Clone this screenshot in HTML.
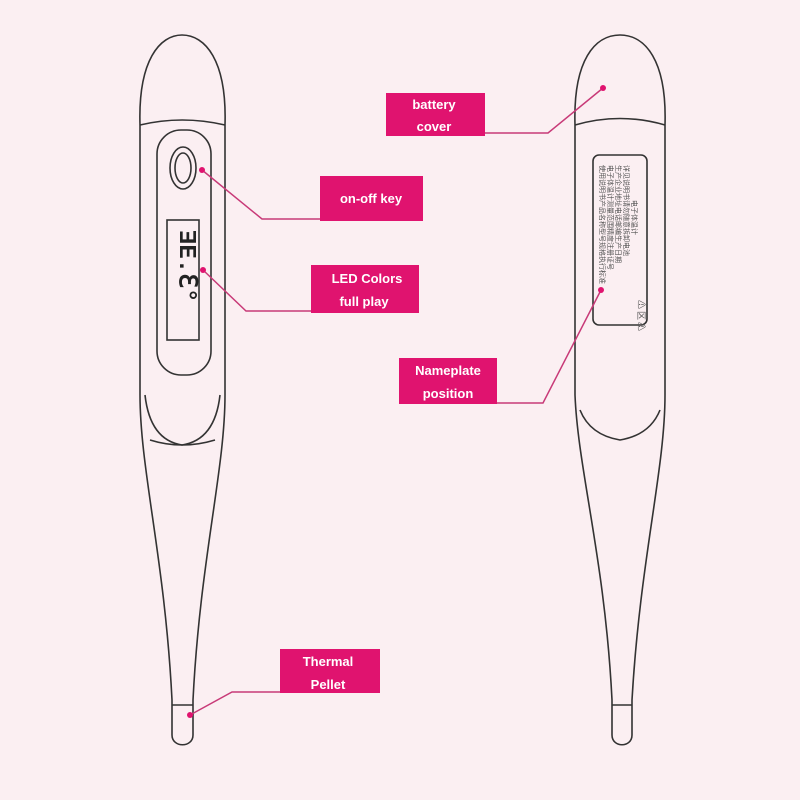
<!DOCTYPE html>
<html><head><style>
html,body{margin:0;padding:0;background:#fbeff2;}
svg{display:block}
.t{font-family:"Liberation Sans",sans-serif;font-weight:bold;fill:#fff;font-size:13px;text-anchor:middle}
</style></head><body>
<svg width="800" height="800" viewBox="0 0 800 800" xmlns="http://www.w3.org/2000/svg">
<rect width="800" height="800" fill="#fbeff2"/>
<g fill="none" stroke="#333" stroke-width="1.6">
<!-- left thermometer -->
<path d="M140,125 C138,60 160,35 182,35 C205,35 227,60 225,125 L225,395 C225,470 200,560 193,700 L193,735 C193,748 172,748 172,735 L172,700 C165,560 140,470 140,395 Z"/>
<path d="M140,125 Q182,115 225,125"/>
<path d="M145,395 Q150,440 182,445 Q215,440 220,395"/>
<path d="M150,440 Q182,450 215,440"/>
<rect x="157" y="130" width="54" height="245" rx="24"/>
<ellipse cx="183" cy="168" rx="13" ry="21"/>
<ellipse cx="183" cy="168" rx="8" ry="15"/>
<rect x="167" y="220" width="32" height="120"/>
<path d="M172,705 L193,705" />
<!-- right thermometer -->
<path d="M575,125 C573,60 595,35 620,35 C645,35 667,60 665,125 L665,395 C665,470 640,560 632,700 L632,735 C632,748 612,748 612,735 L612,700 C605,560 578,470 575,395 Z"/>
<path d="M575,125 Q620,112 665,125"/>
<path d="M580,410 Q590,435 620,440 Q650,435 660,410"/>
<rect x="593" y="155" width="54" height="170" rx="6"/>
<path d="M612,705 L632,705"/>
</g>
<g fill="#555" font-family="Noto Sans CJK SC,sans-serif" font-size="7">
<text transform="translate(600,165) rotate(90)">使用说明书产品名称型号规格执行标准</text>
<text transform="translate(608,165) rotate(90)">电子体温计测量范围精度注册证号</text>
<text transform="translate(616,165) rotate(90)">生产企业地址电话邮编生产日期</text>
<text transform="translate(624,165) rotate(90)">详见说明书请勿随意拆卸电池</text>
<text transform="translate(632,200) rotate(90)">电子体温计</text>
<text transform="translate(638,300) rotate(90)" font-size="9">⚠ 区 ⚠</text>
</g>
<!-- connectors -->
<g stroke="#c83a78" stroke-width="1.5" fill="none">
<polyline points="202,170 262,219 320,219"/>
<polyline points="203,270 246,311 311,311"/>
<polyline points="603,88 548,133 485,133"/>
<polyline points="601,290 543,403 497,403"/>
<polyline points="190,715 232,692 280,692"/>
</g>
<g fill="#e0136f">
<circle cx="202" cy="170" r="3"/><circle cx="203" cy="270" r="3"/>
<circle cx="603" cy="88" r="3"/><circle cx="601" cy="290" r="3"/><circle cx="190" cy="715" r="3"/>
<rect x="386" y="93" width="99" height="43"/>
<rect x="320" y="176" width="103" height="45"/>
<rect x="311" y="265" width="108" height="48"/>
<rect x="399" y="358" width="98" height="46"/>
<rect x="280" y="649" width="100" height="44"/>
</g>
<text class="t" x="434" y="109">battery</text>
<text class="t" x="434" y="131">cover</text>
<text class="t" x="371" y="203">on-off key</text>
<text class="t" x="367" y="283">LED Colors</text>
<text class="t" x="364" y="306">full play</text>
<text class="t" x="448" y="375">Nameplate</text>
<text class="t" x="448" y="398">position</text>
<text class="t" x="328" y="666">Thermal</text>
<text class="t" x="328" y="689">Pellet</text>
<text x="0" y="0" transform="translate(180,230) rotate(90)" font-family="Liberation Mono,monospace" font-size="24" font-weight="bold" fill="#222">ƎE.ℇ°</text>
</svg>
</body></html>
